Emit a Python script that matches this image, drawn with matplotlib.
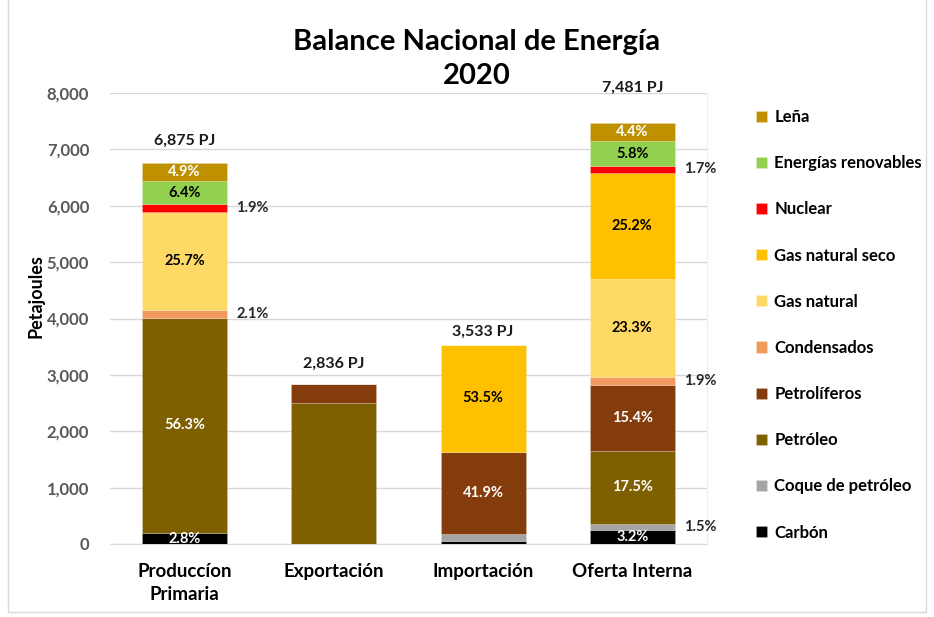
import matplotlib
matplotlib.use("Agg")
import matplotlib.pyplot as plt
from matplotlib.patches import Rectangle
import numpy as np

plt.rcParams['font.family'] = ['Lato', 'DejaVu Sans']

categories = ["Produccíon\nPrimaria", "Exportación", "Importación", "Oferta Interna"]
series_names = ["Carbón", "Coque de petróleo", "Petróleo", "Petrolíferos", "Condensados",
                "Gas natural", "Gas natural seco", "Nuclear", "Energías renovables", "Leña"]
colors = ["#000000", "#A5A5A5", "#7F6000", "#843C0C", "#F19A5E",
          "#FFD966", "#FFC000", "#FF0000", "#92D050", "#BF9000"]

carbon      = [195, 0, 55, 248]
coque       = [0, 0, 120, 107]
petroleo    = [3814, 2501, 0, 1300]
petroliferos= [0, 330, 1460, 1165]
condensados = [142, 0, 0, 142]
gas_natural = [1738, 0, 0, 1738]
gas_seco    = [0, 8, 1895, 1887]
nuclear     = [142, 0, 0, 118]
renovables  = [408, 0, 0, 443]
lena        = [319, 0, 0, 328]

values = [carbon, coque, petroleo, petroliferos, condensados,
          gas_natural, gas_seco, nuclear, renovables, lena]

totals_labels = ["6,875 PJ", "2,836 PJ", "3,533 PJ", "7,481 PJ"]
# vertical placement (data units) of the total labels, as placed in the original
totals_label_y = [7150, 3190, 3760, 8090]

# percentage labels: (category index, series index, text, inside?)
pct_labels = [
    (0, 9, "4.9%", True), (0, 8, "6.4%", True), (0, 7, "1.9%", False),
    (0, 5, "25.7%", True), (0, 4, "2.1%", False), (0, 2, "56.3%", True),
    (0, 0, "2.8%", True),
    (2, 6, "53.5%", True), (2, 3, "41.9%", True),
    (3, 9, "4.4%", True), (3, 8, "5.8%", True), (3, 7, "1.7%", False),
    (3, 6, "25.2%", True), (3, 5, "23.3%", True), (3, 4, "1.9%", False),
    (3, 3, "15.4%", True), (3, 2, "17.5%", True), (3, 1, "1.5%", False),
    (3, 0, "3.2%", True),
]
white_series = {0, 2, 3, 9}

fig = plt.figure(figsize=(9.34, 6.17), dpi=100)
ax = fig.add_axes([110/934, 1-544/617, (707-110)/934, (544-93)/617])

x = np.arange(len(categories))
width = 0.57
bottoms = np.zeros(len(categories))
starts = []
for name, vals, col in zip(series_names, values, colors):
    vals = np.array(vals, dtype=float)
    ax.bar(x, vals, width, bottom=bottoms, color=col, label=name,
           edgecolor=(1, 1, 1, 0.25), linewidth=0.5, zorder=3)
    starts.append(bottoms.copy())
    bottoms = bottoms + vals

for ci, si, txt, inside in pct_labels:
    v = values[si][ci]
    yc = starts[si][ci] + v / 2
    if inside:
        c = "white" if si in white_series else "black"
        ax.text(x[ci], yc, txt, ha="center", va="center", fontsize=10.5,
                fontweight="bold", color=c, zorder=5)
    else:
        ax.text(x[ci] + width / 2 + 0.06, yc, txt, ha="left", va="center",
                fontsize=10.5, fontweight="bold", color="#262626", zorder=5)

for i, t in enumerate(totals_labels):
    ax.text(x[i], totals_label_y[i], t, ha="center", va="center", fontsize=11.5,
            fontweight="bold", color="#1a1a1a", clip_on=False)

ax.set_xlim(-0.5, 3.5)
ax.set_ylim(0, 8000)
ax.set_yticks(np.arange(0, 8001, 1000))
ax.set_yticklabels([f"{v:,}" for v in range(0, 8001, 1000)], fontsize=12,
                   fontweight="bold", color="#595959")
ax.set_xticks(x)
ax.set_xticklabels(categories, fontsize=13.5, fontweight="bold", color="black",
                   linespacing=1.4)
ax.tick_params(axis="y", length=0, pad=15)
ax.tick_params(axis="x", length=0, pad=14)
ax.yaxis.grid(True, color="#D9D9D9", linewidth=1, zorder=0)
ax.set_axisbelow(True)
for s in ["top", "left"]:
    ax.spines[s].set_visible(False)
ax.spines["right"].set_color("#EDEDED")
ax.spines["bottom"].set_color("#D9D9D9")
ax.set_ylabel("Petajoules", fontsize=13, fontweight="bold")
ax.yaxis.set_label_coords(-0.11, 0.55)

fig.text(477/934, 1-42/617, "Balance Nacional de Energía", ha="center", va="center",
         fontsize=21, fontweight="bold")
fig.text(477/934, 1-76/617, "2020", ha="center", va="center",
         fontsize=21, fontweight="bold")

handles, labels = ax.get_legend_handles_labels()
leg = fig.legend(handles[::-1], labels[::-1], loc="upper left",
                 bbox_to_anchor=(741/934, 1-94/617), frameon=False,
                 prop={"weight": "bold", "size": 12}, labelspacing=1.81,
                 handlelength=0.65, handleheight=0.65, handletextpad=0.45)

fig.patches.append(Rectangle((8/934, 5/617), 1 - 16/934, 1 - 5/617 + 0.01,
                             transform=fig.transFigure, fill=False,
                             edgecolor="#D9D9D9", linewidth=1))

fig.savefig("out.png", dpi=100)
